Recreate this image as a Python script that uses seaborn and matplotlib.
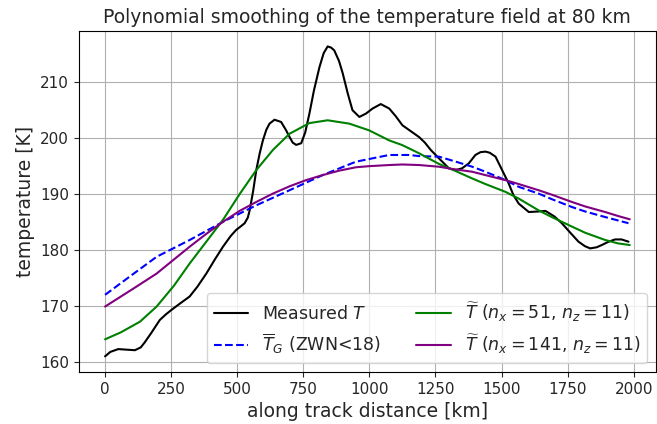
import numpy as np
import pandas as pd
import matplotlib
matplotlib.use("Agg")
import matplotlib.pyplot as plt
import seaborn as sns

# Measured temperature along track
x_meas = [0, 20, 50, 80, 113, 135, 150, 175, 207, 230, 251, 285, 320, 350, 383, 415, 446,
          475, 496, 515, 528, 540, 547, 560, 572, 585, 597, 610, 622, 641, 666, 685, 698,
          710, 723, 742, 757, 773, 790, 811, 827, 842, 855, 867, 885, 899, 918, 936, 962,
          987, 1012, 1043, 1075, 1100, 1125, 1155, 1188, 1210, 1232, 1263, 1301, 1326,
          1350, 1376, 1401, 1420, 1439, 1455, 1477, 1502, 1527, 1545, 1565, 1603, 1640,
          1666, 1700, 1728, 1760, 1791, 1815, 1835, 1860, 1879, 1905, 1929, 1954, 1980]
t_meas = [161.0, 161.8, 162.3, 162.2, 162.1, 162.6, 163.5, 165.2, 167.5, 168.5, 169.3,
          170.5, 171.7, 173.5, 175.8, 178.3, 180.6, 182.5, 183.6, 184.3, 184.8, 185.8,
          187.1, 190.5, 194.3, 197.3, 199.6, 201.5, 202.6, 203.3, 202.9, 201.4, 200.2,
          199.2, 198.8, 199.1, 201.0, 204.4, 208.5, 212.7, 215.2, 216.4, 216.2, 215.7,
          213.8, 211.6, 208.0, 205.0, 203.8, 204.4, 205.3, 206.1, 205.3, 203.9, 202.3,
          201.3, 200.2, 199.2, 197.9, 196.4, 194.6, 194.3, 194.6, 195.5, 197.0, 197.5,
          197.6, 197.4, 196.7, 194.3, 191.9, 189.8, 188.3, 186.8, 186.9, 187.0, 186.0,
          184.8, 183.1, 181.5, 180.7, 180.3, 180.5, 180.9, 181.5, 181.9, 181.9, 181.5]

# Gaussian filtered background T_G (ZWN<18)
x_tg = [0, 100, 195, 320, 446, 572, 698, 823, 949, 1075, 1150, 1188, 1263, 1313, 1389,
        1439, 1515, 1565, 1640, 1690, 1766, 1816, 1892, 1980]
t_tg = [172.0, 175.5, 178.8, 181.8, 185.05, 188.0, 190.7, 193.4, 195.8, 197.0, 197.0,
        196.8, 196.7, 196.0, 194.9, 194.0, 192.5, 191.3, 190.1, 189.1, 187.7, 186.9,
        185.9, 184.8]

# Polynomial smoothing, n_x = 51
x_p51 = [0, 60, 132, 195, 260, 320, 383, 446, 509, 572, 635, 698, 773, 842, 924, 999,
         1075, 1125, 1188, 1263, 1313, 1389, 1439, 1515, 1565, 1640, 1690, 1766, 1816,
         1892, 1940, 1985]
t_p51 = [164.05, 165.3, 167.2, 169.9, 173.6, 177.6, 181.5, 185.4, 190.0, 194.3, 197.9,
         200.8, 202.7, 203.2, 202.6, 201.4, 199.6, 198.75, 197.3, 195.4, 194.4, 192.8,
         191.8, 190.4, 189.2, 187.1, 185.9, 184.2, 183.1, 181.8, 181.2, 180.9]

# Polynomial smoothing, n_x = 141
x_p141 = [0, 100, 195, 260, 320, 383, 446, 509, 572, 635, 698, 760, 823, 886, 949, 999,
          1075, 1125, 1188, 1263, 1313, 1389, 1439, 1515, 1565, 1640, 1690, 1766, 1816,
          1892, 1940, 1985]
t_p141 = [169.9, 172.9, 175.8, 178.3, 180.6, 182.9, 185.05, 187.0, 188.6, 190.1, 191.4,
          192.5, 193.4, 194.2, 194.8, 195.0, 195.2, 195.3, 195.2, 194.9, 194.5, 194.0,
          193.4, 192.5, 191.8, 190.7, 189.9, 188.6, 187.8, 186.8, 186.1, 185.5]

sns.set_style("ticks")
plt.rcParams['font.family'] = ['DejaVu Sans']

fig, ax = plt.subplots(figsize=(6.57, 4.24), dpi=100)
fig.subplots_adjust(left=0.12, right=0.9985, top=0.927, bottom=0.123)

series = [
    (x_meas, t_meas, r"Measured $T$", "black", "-"),
    (x_tg, t_tg, r"$\overline{T}_G$ (ZWN<18)", "blue", "--"),
    (x_p51, t_p51, r"$\widetilde{T}$ ($n_x=51$, $n_z=11$)", "green", "-"),
    (x_p141, t_p141, r"$\widetilde{T}$ ($n_x=141$, $n_z=11$)", "purple", "-"),
]
for xs, ys, lab, col, ls in series:
    df = pd.DataFrame({"x": xs, "T": ys})
    sns.lineplot(data=df, x="x", y="T", ax=ax, color=col, linestyle=ls,
                 linewidth=1.5, label=lab, sort=False, estimator=None)

ax.grid(True, color="#b0b0b0", linewidth=0.8)
ax.set_axisbelow(True)
ax.set_xticks(np.arange(0, 2001, 250))
ax.set_yticks(np.arange(160, 211, 10))
ax.tick_params(labelsize=11)
ax.set_xlabel("along track distance [km]", fontsize=13.5)
ax.set_ylabel("temperature [K]", fontsize=13.5)
ax.set_title("Polynomial smoothing of the temperature field at 80 km", fontsize=13.5)
for s in ax.spines.values():
    s.set_color("black")
ax.legend(loc="lower right", ncol=2, fontsize=12.5, framealpha=0.8)

fig.savefig("out.png", dpi=100)
